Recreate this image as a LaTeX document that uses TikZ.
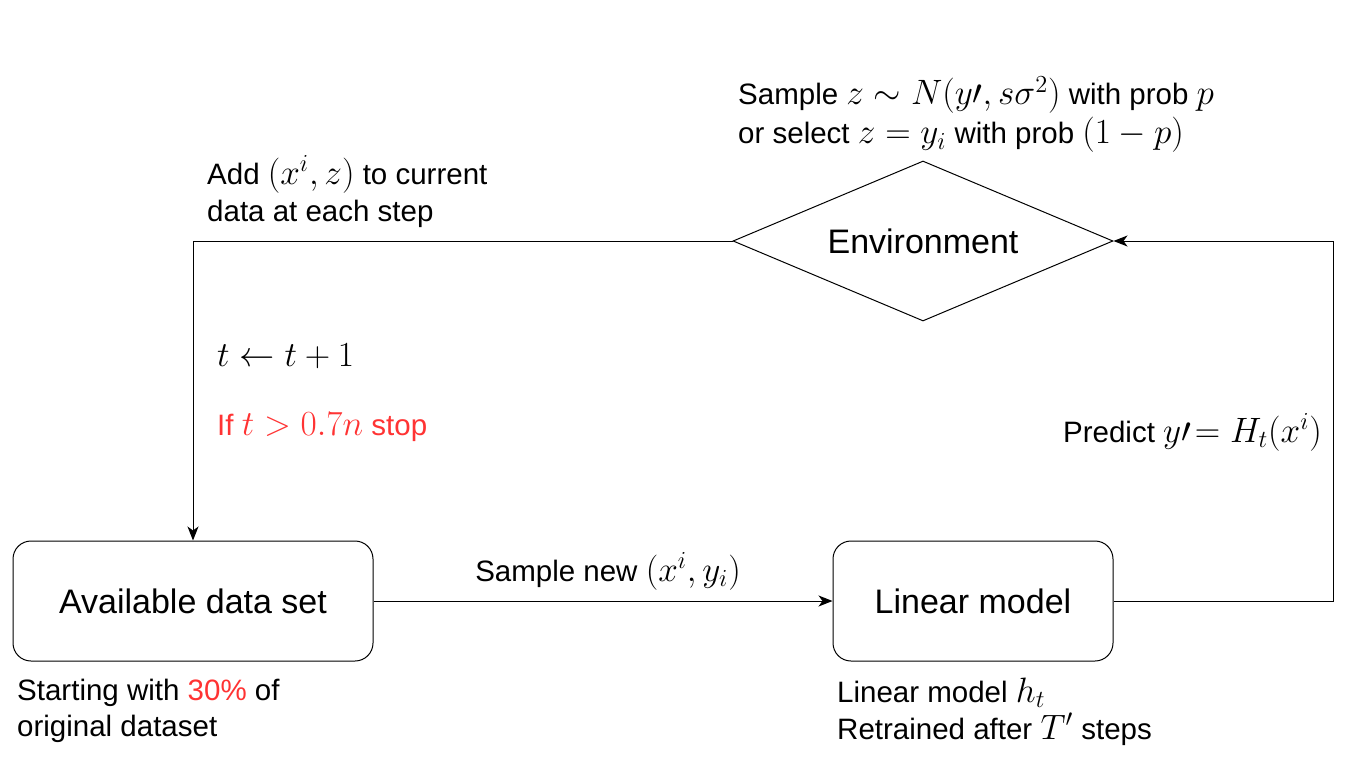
\documentclass[tikz,border=0pt]{standalone}
\usepackage{graphicx}
\usepackage{fontspec}
\setmainfont{Liberation Sans}
\usetikzlibrary{shapes.geometric,arrows.meta}
\definecolor{myred}{HTML}{FF3333}
\newcommand\mth[1]{\scalebox{1.7}{\fontsize{20.74}{25}\selectfont$#1$}}
\tikzset{
  box/.style={draw, rounded corners=18pt, minimum width=360pt, minimum height=120pt, line width=1pt, font=\fontsize{34}{40}\selectfont},
  dia/.style={draw, diamond, aspect=2.375, minimum width=380pt, minimum height=160pt, inner sep=0pt, line width=1pt, font=\fontsize{34}{40}\selectfont},
  conn/.style={line width=1pt, -{Stealth[length=14pt,width=11pt,inset=4pt]}},
  lbl/.style={font=\fontsize{29.5}{40}\selectfont, inner sep=0pt, align=left},
}
\begin{document}
\begin{tikzpicture}[x=1pt,y=-1pt]
\useasboundingbox (0,0) rectangle (1360,760);
\node[box] (avail) at (193,601) {Available data set};
\node[box, minimum width=280pt] (lin) at (973,601) {Linear model};
\node[dia] (env) at (923,241) {Environment};
\coordinate (c1) at (1333,601);
\coordinate (c2) at (1333,241);
\coordinate (c3) at (193,241);
\draw[conn] (avail.east) -- (lin.west);
\draw[conn] (lin.east) -- (c1) -- (c2) -- (env.east);
\draw[conn] (env.west) -- (c3) -- (avail.north);
\node[lbl, anchor=west] (l1) at (738,95) {Sample \mth{z\sim N\bigl(y\prime,s\sigma^2\bigr)} with prob \mth{p}};
\node[lbl, anchor=west] (l2) at (738,135) {or select \mth{z=y_i} with prob \mth{(1-p)}};
\node[lbl, anchor=west] (l3) at (207,174) {Add \mth{\bigl(x^i,z\bigr)} to current};
\node[lbl, anchor=west] (l4) at (207,214) {data at each step};
\node[lbl, anchor=west] (l5) at (217,356) {\mth{t\leftarrow t+1}};
\node[lbl, anchor=west, text=myred] (l6) at (217,427) {If \mth{t>0.7n} stop};
\node[lbl, anchor=east] (l7) at (1322,432) {Predict \mth{y\prime\!= H_t\bigl(x^i\bigr)}};
\node[lbl] (l8) at (608,571) {Sample new \mth{\bigl(x^i,y_i\bigr)}};
\node[lbl, anchor=west] (l9) at (17,693) {Starting with \textcolor{myred}{30\%} of};
\node[lbl, anchor=west] (l10) at (17,729) {original dataset};
\node[lbl, anchor=west] (l11) at (837,693) {Linear model \mth{h_t}};
\node[lbl, anchor=west] (l12) at (837,729) {Retrained after \mth{T'} steps};
\end{tikzpicture}
\end{document}
